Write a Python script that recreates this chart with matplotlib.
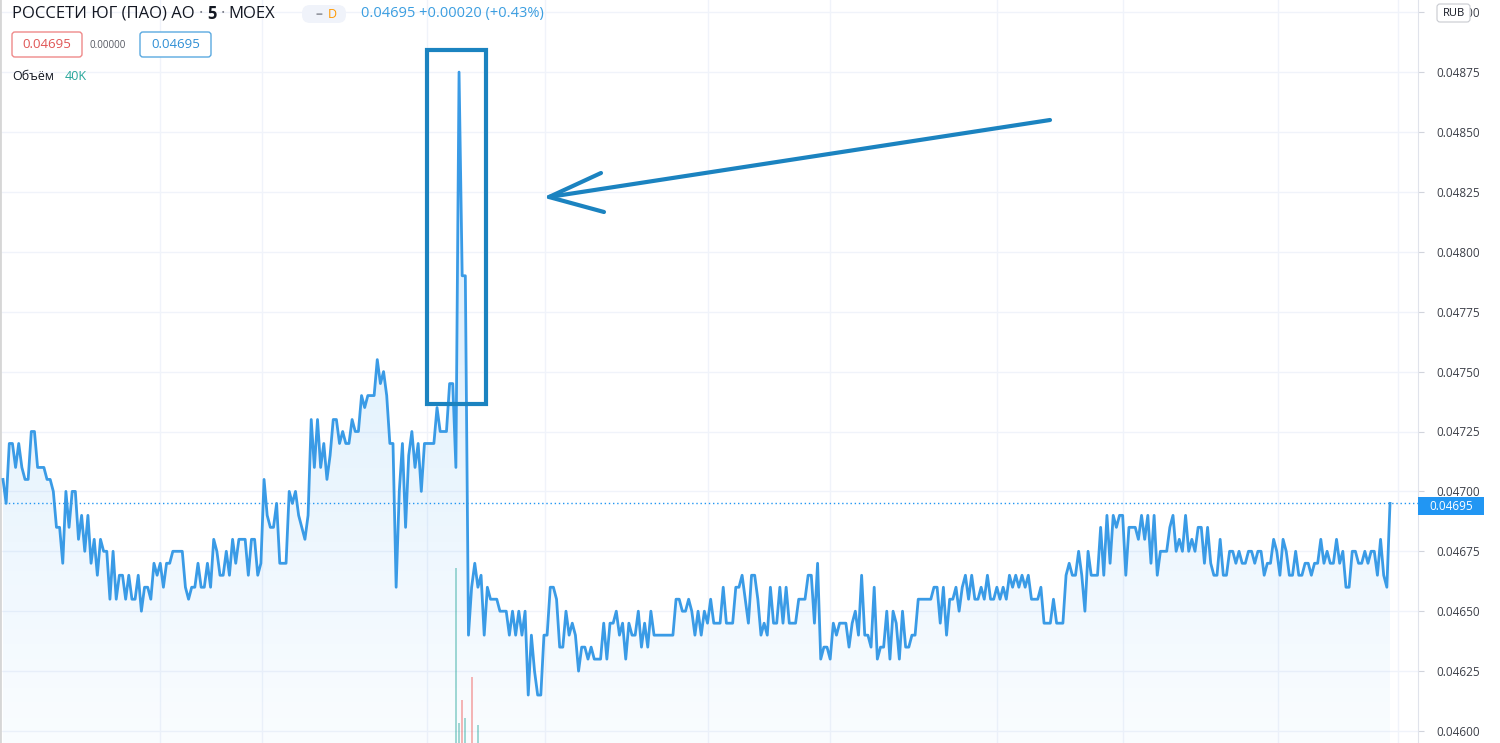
import numpy as np
import matplotlib
matplotlib.use('Agg')
import matplotlib.pyplot as plt
from matplotlib.colors import LinearSegmentedColormap
from matplotlib.lines import Line2D
from matplotlib.patches import Rectangle, FancyBboxPatch
from matplotlib.transforms import IdentityTransform

plt.rcParams['font.family'] = ['Open Sans', 'DejaVu Sans']

# 5-minute closes, in units of 1e-5 RUB
closes_1 = [4705, 4695, 4720, 4720, 4710, 4720, 4710, 4705, 4705, 4725, 4725,
            4710, 4710, 4710, 4705, 4705, 4700, 4685, 4685, 4670, 4700, 4685,
            4700, 4700, 4680, 4690, 4675, 4690, 4670, 4680, 4665, 4680, 4675,
            4675, 4655, 4675, 4655, 4665, 4665, 4655, 4665, 4655, 4655, 4665,
            4650, 4660, 4660, 4655, 4670, 4665, 4670, 4660, 4670, 4670, 4675,
            4675, 4675, 4675, 4660, 4655, 4660, 4660, 4670, 4660, 4660, 4670,
            4660, 4680, 4675, 4665, 4665, 4675, 4665, 4680, 4670, 4680]
closes_2 = [4680, 4680, 4665, 4680, 4680, 4665, 4670, 4705, 4690, 4685, 4685,
            4695, 4670, 4670, 4670, 4700, 4695, 4700, 4690, 4685, 4680, 4690,
            4730, 4710, 4730, 4710, 4720, 4705, 4715, 4730, 4730, 4720, 4725,
            4720, 4720, 4730, 4725, 4725, 4740, 4735, 4740, 4740, 4740, 4755,
            4745, 4750, 4740, 4720, 4720, 4660, 4700, 4720, 4685, 4715, 4725,
            4710, 4720, 4700, 4720, 4720, 4720, 4720, 4735, 4725, 4725, 4725,
            4745, 4745, 4710, 4875, 4790, 4790, 4640]
closes_3 = [4660, 4670, 4660, 4665, 4640, 4660, 4655, 4655, 4655, 4650, 4650,
            4650, 4640, 4650, 4640, 4650, 4640, 4650, 4615, 4640, 4625, 4615,
            4615, 4640, 4640, 4660, 4660, 4655, 4635, 4635, 4650, 4640, 4645,
            4640, 4625, 4635, 4635, 4630, 4635, 4630, 4630, 4630, 4645, 4630,
            4645, 4645, 4650, 4640, 4645, 4630, 4645, 4640, 4640, 4650, 4635,
            4645, 4635, 4650, 4640, 4640, 4640, 4640, 4640, 4640, 4640, 4655,
            4655, 4650, 4650, 4655, 4650, 4640, 4650, 4640]
closes_4 = [4650, 4645, 4655, 4645, 4645, 4645, 4660, 4645, 4645, 4645, 4660,
            4660, 4665, 4655, 4645, 4665, 4665, 4655, 4640, 4645, 4640, 4660,
            4645, 4645, 4660, 4645, 4660, 4645, 4645, 4645, 4655, 4655, 4655,
            4665, 4665, 4645, 4670, 4630, 4635, 4635, 4630, 4645, 4640, 4645,
            4645, 4645, 4635, 4645, 4650, 4640, 4665, 4640, 4640, 4635, 4660,
            4630, 4635, 4635, 4650, 4630, 4650, 4645, 4630, 4650, 4635, 4635,
            4640, 4640, 4655, 4655, 4655, 4655, 4655, 4660]
closes_5 = [4660, 4645, 4660, 4640, 4655, 4655, 4660, 4650, 4660, 4665, 4655,
            4665, 4655, 4655, 4660, 4655, 4665, 4655, 4655, 4660, 4655, 4660,
            4655, 4665, 4660, 4665, 4660, 4665, 4660, 4665, 4655, 4655, 4655,
            4660, 4645, 4645, 4645, 4655, 4645, 4645, 4645, 4665, 4670, 4665,
            4665, 4675, 4665, 4650, 4675, 4665, 4665, 4665, 4685, 4665, 4690,
            4670, 4690, 4685, 4690, 4690, 4665, 4685, 4685, 4685, 4680, 4690,
            4680, 4690, 4670, 4690, 4665, 4675, 4675, 4675, 4685, 4690, 4675,
            4680, 4675]
closes_6 = [4690, 4675, 4680, 4675, 4685, 4685, 4670, 4685, 4670, 4665, 4665,
            4680, 4665, 4665, 4675, 4675, 4670, 4675, 4670, 4670, 4675, 4675,
            4670, 4675, 4675, 4665, 4670, 4670, 4680, 4675, 4665, 4680, 4675,
            4665, 4665, 4675, 4665, 4665, 4670, 4670, 4665, 4670, 4670, 4680,
            4670, 4675, 4670, 4670, 4680, 4670, 4675, 4660, 4660, 4675, 4675,
            4670, 4670, 4675, 4670, 4675, 4675, 4665, 4680, 4665, 4660, 4695]

# volume bars around the spike: offset from spike bar, volume (K), up/down
vol_offsets = [-1, 0, 1, 2, 4, 6]
vol_values = [2600, 300, 640, 370, 980, 270]
vol_up = [True, True, False, True, False, True]

price_ticks = [0.04600 + 0.00025 * i for i in range(13)]
last_price = 0.04695

W, H = 1500, 743
line_color = '#3a9be6'
ann_color = '#1b83c0'

closes = np.array(closes_1 + closes_2 + closes_3 + closes_4 + closes_5 + closes_6) / 1e5
n = len(closes)
x = np.arange(n)
spike = int(np.argmax(closes))

fig = plt.figure(figsize=(W / 100, H / 100), dpi=100)
ax_right = 1418
ax = fig.add_axes([0, 0, ax_right / W, 1])

# px mapping for x axis: first bar at 3px, last at 1390px
step = (1390 - 3) / (n - 1)
ax.set_xlim(-3 / step, (n - 1) + (ax_right - 1390) / step)
y_lo = 0.046 + (731 - 743) / 239600
y_hi = 0.046 + 731 / 239600
ax.set_ylim(y_lo, y_hi)

# grid
for p in [160, 262, 427, 545, 708, 830, 997, 1123, 1278, 1398]:
    ax.axvline((p - 3) / step, color='#f0f3fa', lw=1, zorder=0)
for t in price_ticks:
    ax.axhline(t, color='#f0f3fa', lw=1, zorder=0)

# gradient fill below the line
poly = ax.fill_between(x, closes, y_lo, color='none')
cmap = LinearSegmentedColormap.from_list(
    'fade', [(0.13, 0.59, 0.95, 0.025), (0.13, 0.59, 0.95, 0.13)])
ys = np.linspace(y_hi, y_lo, 300)
grad = np.clip((ys - y_lo) / (0.0476 - y_lo), 0, 1).reshape(-1, 1)
img = ax.imshow(grad, extent=[x[0], x[-1], y_lo, y_hi], aspect='auto',
                cmap=cmap, vmin=0, vmax=1, origin='upper', zorder=1)
img.set_clip_path(poly.get_paths()[0], transform=ax.transData)

# volume
vmax = max(vol_values)
for off, v, up in zip(vol_offsets, vol_values, vol_up):
    c = '#26a69a' if up else '#ef5350'
    ax.vlines(spike + off, 0, v / vmax * 0.235, color=c, alpha=0.5, lw=1.2,
              transform=ax.get_xaxis_transform(), zorder=2)

ax.axhline(last_price, color='#2196f3', lw=1, ls=(0, (1, 2)), zorder=2)
ax.plot(x, closes, color=line_color, lw=2.0, zorder=3)

ax.yaxis.tick_right()
ax.set_yticks(price_ticks)
ax.set_yticklabels([f'{t:.5f}' for t in price_ticks])
ax.tick_params(axis='y', length=4, color='#d1d4dc', labelsize=8.5,
               labelcolor='#3c3f48', pad=9)
ax.set_xticks([])
for s in ['top', 'bottom']:
    ax.spines[s].set_visible(False)
ax.spines['right'].set_color('#e0e3eb')
ax.spines['left'].set_color('#d6d6d6')
ax.spines['left'].set_linewidth(2)
ax.set_facecolor('white')

ident = IdentityTransform()


def box_px(x0, y0, x1, y1, fc, ec, lw=1.0, r=2.0, z=5):
    p = FancyBboxPatch((x0, H - y1), x1 - x0, y1 - y0,
                       boxstyle=f'round,pad=0,rounding_size={r}',
                       fc=fc, ec=ec, lw=lw, transform=ident, zorder=z)
    fig.add_artist(p)


def text_px(xp, yp, s, color, size, weight='normal', z=6, ha='left'):
    return fig.text(xp, H - yp, s, color=color, fontsize=size,
                    fontweight=weight, va='center', ha=ha,
                    transform=ident, zorder=z)


def seq_text(xp, yp, parts, gap=4):
    r = fig.canvas.get_renderer()
    for s, color, size, weight in parts:
        t = text_px(xp, yp, s, color, size, weight)
        bb = t.get_window_extent(r)
        xp = bb.x1 + gap


# header
seq_text(12, 14, [('РОССЕТИ ЮГ (ПАО) АО', '#131722', 12, 'medium'),
                  ('·', '#787b86', 12, 'normal'),
                  ('5', '#131722', 12, 'bold'),
                  ('·', '#787b86', 12, 'normal'),
                  ('MOEX', '#131722', 12, 'medium')])
box_px(302, 5, 346, 23, '#f0f3fa', 'none', r=8)
text_px(315, 14, '–', '#9598a1', 10, 'bold')
text_px(328, 14, 'D', '#ff9800', 9)
text_px(361, 14, '0.04695 +0.00020 (+0.43%)', '#3b9ee0', 10.5)

box_px(12, 32, 82, 57, 'white', '#ef8a8a', lw=1.0, r=3)
text_px(47, 45, '0.04695', '#e05555', 9.5, ha='center')
text_px(90, 45, '0.00000', '#555862', 7)
box_px(140, 32, 211, 57, 'white', '#5aa9e0', lw=1.0, r=3)
text_px(175.5, 45, '0.04695', '#2f8fd5', 9.5, ha='center')

text_px(12, 76, 'Объём', '#131722', 9)
text_px(65, 76, '40K', '#26a69a', 9)

# right side labels
box_px(1437, 4, 1470, 22, 'white', '#c8cad0', lw=0.8, r=3, z=7)
text_px(1453.5, 13, 'RUB', '#131722', 8, ha='center', z=8)
tag = Rectangle((ax_right, H - 515), 66, 18, fc='#2196f3', ec='none',
                transform=ident, zorder=7)
fig.add_artist(tag)
text_px(1451, 506, '0.04695', 'white', 8.5, ha='center', z=8)

# hand-drawn marks: box around the spike and arrow
fig.add_artist(Rectangle((427, H - 404), 59, 354, fill=False, ec=ann_color,
                         lw=3, transform=ident, zorder=9))
for (x0, y0), (x1, y1) in [((1050, 120), (549, 197)),
                           ((549, 197), (601, 173)),
                           ((549, 197), (604, 212))]:
    fig.add_artist(Line2D([x0, x1], [H - y0, H - y1], color=ann_color, lw=3,
                          solid_capstyle='round', transform=ident, zorder=9))

fig.savefig('out.png', dpi=100, facecolor='white')
